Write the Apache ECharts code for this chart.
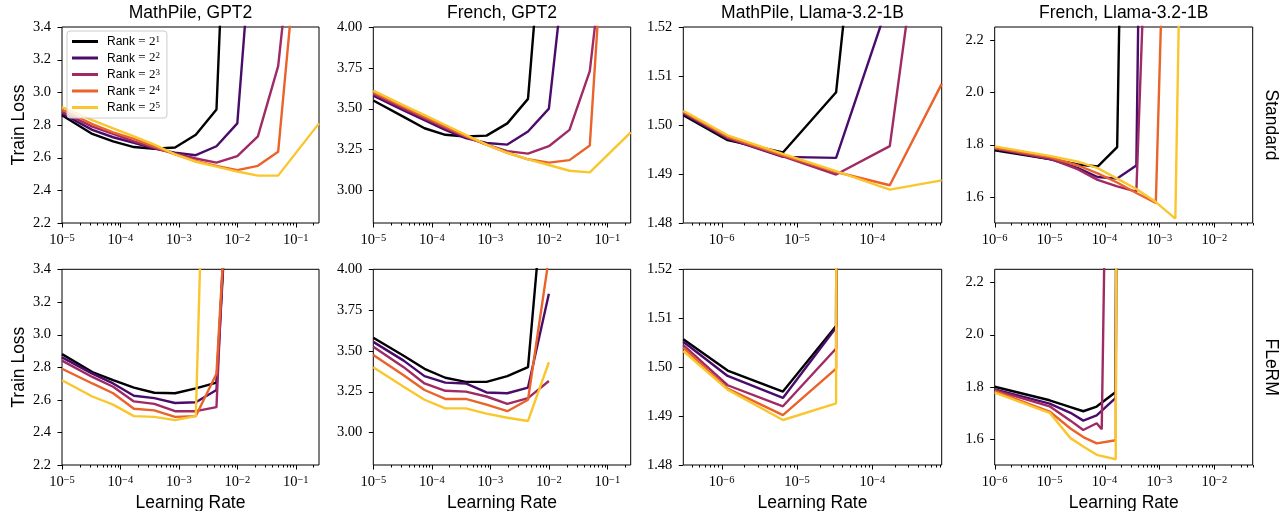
<!DOCTYPE html>
<html><head><meta charset="utf-8">
<script src="https://cdn.jsdelivr.net/npm/echarts@6/dist/echarts.min.js"></script>
<style>html,body{margin:0;padding:0;background:#fff}#c{width:1286px;height:511px}</style>
</head><body><div id="c"></div>
<script>
// ---------- labels ----------
const rankNames = ['Rank = 2^1', 'Rank = 2^2', 'Rank = 2^3', 'Rank = 2^4', 'Rank = 2^5'];
const rankColors = ['#000004', '#4a0c6b', '#a02a63', '#ea632a', '#fac62d'];
const colTitles = ['MathPile, GPT2', 'French, GPT2', 'MathPile, Llama-3.2-1B', 'French, Llama-3.2-1B'];
const rowLabels = ['Standard', 'FLeRM'];
const yAxisTitle = 'Train Loss';
const xAxisTitle = 'Learning Rate';

// ---------- learning-rate grids ----------
const lrGpt2 = [1e-5, 3.3e-5, 7.5e-5, 1.7e-4, 3.8e-4, 8.6e-4, 1.95e-3, 4.4e-3, 1e-2, 2.25e-2, 5e-2, 1.13e-1, 2.5e-1];
const lrLlamaMath = [3.1e-7, 1.2e-6, 6.5e-6, 3.3e-5, 1.7e-4, 8.3e-4];
const lrLlamaFrStd = [1e-6, 1e-5, 3.3e-5, 7.5e-5, 1.7e-4, 3.8e-4, 8.6e-4, 1.95e-3, 4.4e-3];
const lrLlamaFrFlerm = [1e-6, 1e-5, 2.4e-5, 4.1e-5, 7.2e-5, 8.9e-5, 1.6e-4, 3.8e-4];

// ---------- train loss, one row per rank (2^1 .. 2^5) ----------
const mathGpt2Std = [
  [2.86, 2.745, 2.70, 2.665, 2.655, 2.662, 2.74, 2.895, 6.0, null, null, null, null],
  [2.87, 2.77, 2.725, 2.69, 2.655, 2.63, 2.615, 2.67, 2.81, 4.43, null, null, null],
  [2.88, 2.79, 2.745, 2.70, 2.66, 2.625, 2.595, 2.57, 2.61, 2.73, 3.16, 4.34, null],
  [2.895, 2.805, 2.755, 2.715, 2.667, 2.62, 2.58, 2.55, 2.524, 2.55, 2.636, 4.0, null],
  [2.91, 2.83, 2.78, 2.73, 2.68, 2.62, 2.575, 2.545, 2.515, 2.49, 2.49, null, 2.81]
];
const frenchGpt2Std = [
  [3.55, 3.45, 3.38, 3.34, 3.33, 3.335, 3.41, 3.56, 5.13, null, null, null, null],
  [3.58, 3.49, 3.43, 3.37, 3.32, 3.29, 3.28, 3.36, 3.50, 4.64, null, null, null],
  [3.59, 3.50, 3.44, 3.38, 3.33, 3.28, 3.24, 3.225, 3.27, 3.37, 3.73, 4.84, null],
  [3.60, 3.51, 3.45, 3.39, 3.33, 3.28, 3.23, 3.19, 3.17, 3.185, 3.275, 5.25, null],
  [3.61, 3.52, 3.46, 3.40, 3.34, 3.28, 3.23, 3.19, 3.155, 3.12, 3.11, null, 3.355]
];
const mathLlamaStd = [
  [1.5020, 1.4969, 1.4944, 1.5067, 1.61, null],
  [1.5023, 1.4972, 1.4935, 1.4933, 1.5258, null],
  [1.5025, 1.4974, 1.4936, 1.4899, 1.4957, 1.574],
  [1.5027, 1.4976, 1.4938, 1.4904, 1.4877, 1.5084],
  [1.5029, 1.4979, 1.4941, 1.4906, 1.4868, 1.4887]
];
const frenchLlamaStd = [
  [1.778, 1.745, 1.724, 1.716, 1.79, 6.2, null, null, null],
  [1.784, 1.745, 1.71, 1.676, 1.67, 1.72, 7.5, null, null],
  [1.786, 1.747, 1.705, 1.665, 1.64, 1.62, 3.7, null, null],
  [1.788, 1.752, 1.72, 1.69, 1.655, 1.615, 1.577, 4.2, null],
  [1.793, 1.757, 1.735, 1.71, 1.67, 1.63, 1.58, 1.517, 5.8]
];
const mathGpt2Flerm = [
  [2.88, 2.77, 2.72, 2.674, 2.643, 2.64, 2.67, 2.705, 5.0, null, null, null, null],
  [2.86, 2.76, 2.70, 2.625, 2.61, 2.58, 2.585, 2.66, 5.0, null, null, null, null],
  [2.84, 2.74, 2.68, 2.59, 2.575, 2.53, 2.53, 2.555, 5.5, null, null, null, null],
  [2.79, 2.70, 2.64, 2.545, 2.535, 2.495, 2.50, 2.76, 5.0, null, null, null, null],
  [2.72, 2.62, 2.57, 2.50, 2.495, 2.475, 2.50, 7.0, null, null, null, null, null]
];
const frenchGpt2Flerm = [
  [3.58, 3.47, 3.39, 3.335, 3.31, 3.31, 3.345, 3.40, 4.85, null, null, null, null],
  [3.555, 3.44, 3.345, 3.305, 3.30, 3.245, 3.24, 3.275, 3.85, null, null, null, null],
  [3.525, 3.40, 3.30, 3.255, 3.25, 3.22, 3.175, 3.21, 3.315, null, null, null, null],
  [3.475, 3.35, 3.26, 3.205, 3.205, 3.17, 3.13, 3.20, 4.07, null, null, null, null],
  [3.40, 3.28, 3.20, 3.147, 3.147, 3.115, 3.09, 3.07, 3.43, null, null, null, null]
];
const mathLlamaFlerm = [
  [1.5057, 1.4993, 1.4950, 1.5084, 10, null],
  [1.5052, 1.4982, 1.4937, 1.5081, 10, null],
  [1.5045, 1.4963, 1.4920, 1.5038, 10, null],
  [1.5040, 1.4956, 1.4902, 1.4997, 10, null],
  [1.5033, 1.4954, 1.4892, 1.4926, 10, null]
];
const frenchLlamaFlerm = [
  [1.80, 1.748, 1.722, 1.706, 1.724, null, 1.78, 30],
  [1.79, 1.735, 1.70, 1.67, 1.69, null, 1.757, 30],
  [1.787, 1.725, 1.67, 1.634, 1.66, 1.637, 5.2, null],
  [1.783, 1.705, 1.64, 1.607, 1.583, null, 1.595, 30],
  [1.777, 1.70, 1.603, 1.571, 1.539, null, 1.522, 30]
];

// ---------- axis ranges ----------
const xRanges = [[1e-5, 0.25], [1e-5, 0.25], [3.1e-7, 8.3e-4], [1e-6, 0.05]];
const yRanges = [[2.2, 3.4], [2.8, 4.0], [1.48, 1.52], [1.5, 2.25]];
const yTickSteps = [0.2, 0.25, 0.01, 0.2];
const yTickDecimals = [1, 2, 2, 1];

// ---------- layout ----------
const colLeft = [62, 373.3, 683.3, 994.7];
const colWidth = [257, 257.4, 258.4, 258];
const rowTop = [27, 269.3];
const rowHeight = [196, 195.7];

const panels = [
  {row: 0, col: 0, lr: lrGpt2, vals: mathGpt2Std},
  {row: 0, col: 1, lr: lrGpt2, vals: frenchGpt2Std},
  {row: 0, col: 2, lr: lrLlamaMath, vals: mathLlamaStd},
  {row: 0, col: 3, lr: lrLlamaFrStd, vals: frenchLlamaStd},
  {row: 1, col: 0, lr: lrGpt2, vals: mathGpt2Flerm},
  {row: 1, col: 1, lr: lrGpt2, vals: frenchGpt2Flerm},
  {row: 1, col: 2, lr: lrLlamaMath, vals: mathLlamaFlerm},
  {row: 1, col: 3, lr: lrLlamaFrFlerm, vals: frenchLlamaFlerm}
];

const SERIF = '"Liberation Serif", "DejaVu Serif", serif';
const SANS = '"Liberation Sans", Arial, sans-serif';
const MINUS = '\u2212';

function logLabel(v) {
  const e = Math.log10(v);
  const r = Math.round(e);
  if (Math.abs(e - r) > 1e-6) return '';
  return '{b|10}{s|' + (r < 0 ? MINUS : '') + Math.abs(r) + '}';
}

function tickData(col) {
  const [xmin, xmax] = xRanges[col];
  const [ymin, ymax] = yRanges[col];
  const step = yTickSteps[col];
  const out = [];
  for (let e = Math.floor(Math.log10(xmin)); e <= Math.ceil(Math.log10(xmax)); e++) {
    for (let m = 1; m <= 9; m++) {
      const v = m * Math.pow(10, e);
      if (v >= xmin * (1 - 1e-9) && v <= xmax * (1 + 1e-9)) out.push([v, ymin, m === 1 ? 0 : 1]);
    }
  }
  for (let k = Math.ceil(ymin / step - 1e-6); k * step <= ymax + 1e-9; k++) {
    out.push([xmin, +(k * step).toFixed(6), 2]);
  }
  return out;
}

const grid = [], xAxis = [], yAxis = [], series = [];
panels.forEach((p, i) => {
  const c = p.col, r = p.row;
  grid.push({left: colLeft[c], top: rowTop[r], width: colWidth[c], height: rowHeight[r],
    show: true, borderColor: '#000', borderWidth: 1, backgroundColor: 'transparent',
    containLabel: false, outerBoundsMode: 'none'});
  xAxis.push({type: 'log', logBase: 10, gridIndex: i, min: xRanges[c][0], max: xRanges[c][1],
    axisLine: {show: false}, axisTick: {show: false}, splitLine: {show: false}, minorTick: {show: false},
    name: r === 1 ? xAxisTitle : '', nameLocation: 'middle', nameGap: 29,
    nameTextStyle: {fontFamily: SANS, fontSize: 17.5, color: '#000'},
    axisLabel: {show: true, margin: 10, formatter: logLabel, color: '#000',
      rich: {
        b: {fontFamily: SERIF, fontSize: 14.5, color: '#000', lineHeight: 15, verticalAlign: 'bottom'},
        s: {fontFamily: SERIF, fontSize: 10.5, color: '#000', lineHeight: 10, verticalAlign: 'top'}
      }}
  });
  const step = yTickSteps[c], dec = yTickDecimals[c];
  yAxis.push({type: 'value', gridIndex: i, min: yRanges[c][0], max: yRanges[c][1],
    interval: c === 2 ? 0.01 : 0.05,
    axisLine: {show: false}, axisTick: {show: false}, splitLine: {show: false},
    name: c === 0 ? yAxisTitle : '', nameLocation: 'middle', nameGap: 34,
    nameTextStyle: {fontFamily: SANS, fontSize: 17.5, color: '#000'},
    axisLabel: {show: true, margin: 11, color: '#000', fontFamily: SERIF, fontSize: 14.5,
      formatter: v => {
        const q = v / step;
        if (Math.abs(q - Math.round(q)) > 1e-6) return '';
        return v.toFixed(dec);
      }}
  });
  p.vals.forEach((vals, j) => {
    const data = [];
    p.lr.forEach((x, k) => { if (vals[k] !== null && vals[k] !== undefined) data.push([x, vals[k]]); });
    series.push({type: 'line', name: rankNames[j], xAxisIndex: i, yAxisIndex: i, data: data,
      showSymbol: false, symbol: 'none', clip: true, animation: false,
      color: rankColors[j], lineStyle: {width: 2.4, color: rankColors[j]}, itemStyle: {color: rankColors[j]},
      z: 2 + j * 0.01});
  });
  series.push({type: 'custom', xAxisIndex: i, yAxisIndex: i, data: tickData(c), silent: true,
    animation: false, clip: false, z: 5,
    renderItem: (params, api) => {
      const k = api.value(2);
      const pt = api.coord([api.value(0), api.value(1)]);
      let shape;
      if (k < 2) {
        const x = Math.round(pt[0]) + 0.5, len = k === 0 ? 4.5 : 2.5;
        shape = {x1: x, y1: pt[1], x2: x, y2: pt[1] + len};
      } else {
        const y = Math.round(pt[1]) + 0.5;
        shape = {x1: pt[0], y1: y, x2: pt[0] - 4.5, y2: y};
      }
      return {type: 'line', shape: shape, style: {stroke: '#000', lineWidth: 1}};
    }});
});

const graphic = [];
colTitles.forEach((t, c) => {
  graphic.push({type: 'text', x: colLeft[c] + colWidth[c] / 2, y: 13,
    style: {text: t, fill: '#000', font: '17.5px ' + SANS, align: 'center', verticalAlign: 'middle'}});
});
rowLabels.forEach((t, r) => {
  graphic.push({type: 'text', x: 1271, y: rowTop[r] + rowHeight[r] / 2, rotation: -Math.PI / 2,
    style: {text: t, fill: '#000', font: '17.5px ' + SANS, align: 'center', verticalAlign: 'middle'}});
});

const chart = echarts.init(document.getElementById('c'), null, {renderer: 'canvas'});
chart.setOption({
  animation: false,
  backgroundColor: '#fff',
  grid, xAxis, yAxis, series, graphic,
  legend: {
    data: rankNames, orient: 'vertical', left: 67, top: 31,
    itemWidth: 26, itemHeight: 3, itemGap: 3.5, icon: 'rect',
    padding: [4, 7, 4, 5], backgroundColor: 'rgba(255,255,255,0.8)',
    borderColor: '#cccccc', borderWidth: 1, borderRadius: 3, selectedMode: false,
    formatter: name => {
      const parts = name.split('^');
      return '{a|Rank }{m|= 2}{s|' + parts[1] + '}';
    },
    textStyle: {color: '#000', padding: [0, 0, 0, 4],
      rich: {
        a: {fontFamily: SANS, fontSize: 12, color: '#000', lineHeight: 13, verticalAlign: 'bottom'},
        m: {fontFamily: SERIF, fontSize: 13, color: '#000', lineHeight: 13, verticalAlign: 'bottom'},
        s: {fontFamily: SERIF, fontSize: 9, color: '#000', lineHeight: 9, verticalAlign: 'top'}
      }}
  }
});
</script>
</body></html>
